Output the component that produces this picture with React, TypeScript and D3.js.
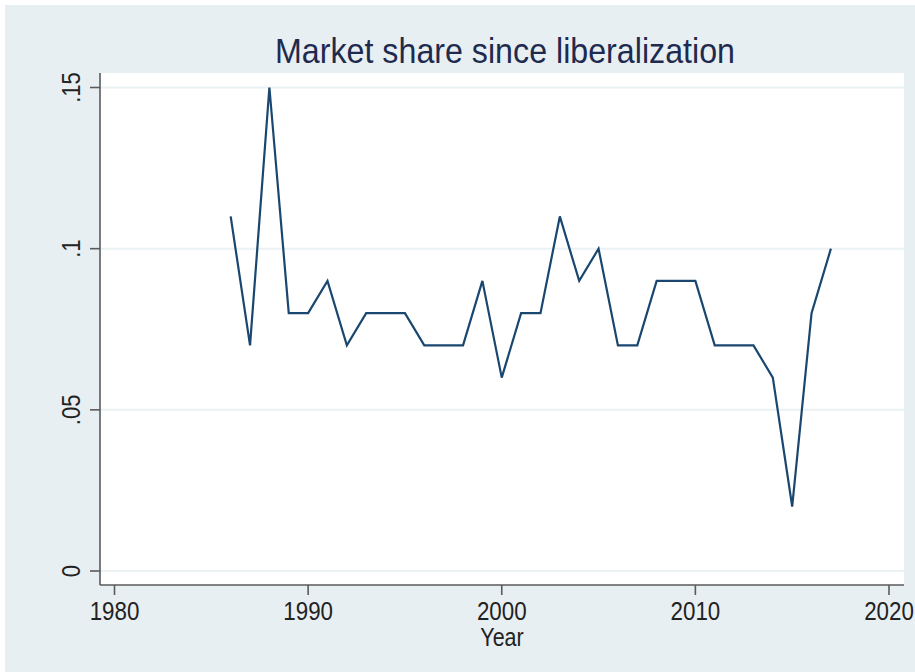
import React, { useEffect, useRef } from 'react';
import * as d3 from 'd3';

const years = [1986, 1987, 1988, 1989, 1990, 1991, 1992, 1993, 1994, 1995, 1996, 1997, 1998, 1999, 2000, 2001,
    2002, 2003, 2004, 2005, 2006, 2007, 2008, 2009, 2010, 2011, 2012, 2013, 2014, 2015, 2016, 2017];
const share = [0.11, 0.07, 0.15, 0.08, 0.08, 0.09, 0.07, 0.08, 0.08, 0.08, 0.07, 0.07, 0.07, 0.09, 0.06, 0.08,
    0.08, 0.11, 0.09, 0.10, 0.07, 0.07, 0.09, 0.09, 0.09, 0.07, 0.07, 0.07, 0.06, 0.02, 0.08, 0.10];
const xTicks = [1980, 1990, 2000, 2010, 2020];
const yTicks = [0, 0.05, 0.1, 0.15];
const yTickLabels = ["0", ".05", ".1", ".15"];

const App = () => {
    const svgRef = useRef<SVGSVGElement>(null);

    useEffect(() => {
        const svg = d3.select(svgRef.current);
        svg.selectAll("*").remove();

        const width = 915;
        const height = 672;
        const plot = { left: 100, right: 904, top: 73, bottom: 585 };
        const font = "'Liberation Sans', Arial, sans-serif";

        // background region
        svg.append("rect")
            .attr("x", 5).attr("y", 5)
            .attr("width", width - 5).attr("height", height - 5)
            .attr("fill", "#e8eff2");

        svg.append("rect")
            .attr("x", plot.left).attr("y", plot.top)
            .attr("width", plot.right - plot.left).attr("height", plot.bottom - plot.top)
            .attr("fill", "#ffffff");

        const x = d3.scaleLinear().domain([1980, 2020]).range([114.5, 889]);
        const y = d3.scaleLinear().domain([0, 0.15]).range([571, 87.5]);

        // gridlines
        svg.append("g")
            .selectAll("line")
            .data(yTicks)
            .enter()
            .append("line")
            .attr("x1", plot.left).attr("x2", plot.right)
            .attr("y1", (d) => y(d)).attr("y2", (d) => y(d))
            .attr("stroke", "#eaf2f3")
            .attr("stroke-width", 2);

        // series line
        const line = d3.line<number>()
            .x((d, i) => x(years[i]))
            .y((d) => y(d));

        svg.append("path")
            .datum(share)
            .attr("d", line)
            .attr("fill", "none")
            .attr("stroke", "#1a476f")
            .attr("stroke-width", 2.2)
            .attr("stroke-linejoin", "miter");

        // axes
        const axisColor = "#5a5a5a";
        svg.append("line")
            .attr("x1", plot.left).attr("x2", plot.left)
            .attr("y1", plot.top).attr("y2", plot.bottom)
            .attr("stroke", axisColor).attr("stroke-width", 1.6);
        svg.append("line")
            .attr("x1", plot.left).attr("x2", plot.right)
            .attr("y1", plot.bottom).attr("y2", plot.bottom)
            .attr("stroke", axisColor).attr("stroke-width", 1.6);

        // y ticks + labels
        const yg = svg.append("g");
        yg.selectAll("line")
            .data(yTicks)
            .enter()
            .append("line")
            .attr("x1", 90).attr("x2", plot.left)
            .attr("y1", (d) => y(d)).attr("y2", (d) => y(d))
            .attr("stroke", axisColor).attr("stroke-width", 1.6);
        yg.selectAll("text")
            .data(yTicks)
            .enter()
            .append("text")
            .attr("transform", (d) => `translate(80, ${y(d)}) rotate(-90) scale(0.85, 1)`)
            .attr("text-anchor", "middle")
            .attr("font-family", font)
            .attr("font-size", 26)
            .attr("fill", "#222")
            .text((d, i) => yTickLabels[i]);

        // x ticks + labels
        const xg = svg.append("g");
        xg.selectAll("line")
            .data(xTicks)
            .enter()
            .append("line")
            .attr("x1", (d) => x(d)).attr("x2", (d) => x(d))
            .attr("y1", plot.bottom).attr("y2", plot.bottom + 10)
            .attr("stroke", axisColor).attr("stroke-width", 1.6);
        xg.selectAll("text")
            .data(xTicks)
            .enter()
            .append("text")
            .attr("transform", (d) => `translate(${x(d)}, 620) scale(0.86, 1)`)
            .attr("text-anchor", "middle")
            .attr("font-family", font)
            .attr("font-size", 26)
            .attr("fill", "#222")
            .text((d) => String(d));

        svg.append("text")
            .attr("transform", `translate(${(plot.left + plot.right) / 2}, 646) scale(0.86, 1)`)
            .attr("text-anchor", "middle")
            .attr("font-family", font)
            .attr("font-size", 25)
            .attr("fill", "#222")
            .text("Year");

        svg.append("text")
            .attr("x", 505).attr("y", 63)
            .attr("text-anchor", "middle")
            .attr("font-family", font)
            .attr("font-size", 35)
            .attr("textLength", 460)
            .attr("lengthAdjust", "spacingAndGlyphs")
            .attr("fill", "#1e2b4f")
            .text("Market share since liberalization");
    }, []);

    return (
        <svg ref={svgRef} width={915} height={672}
            style={{ position: "absolute", left: 0, top: 0, display: "block" }} />
    );
};

export default App;
